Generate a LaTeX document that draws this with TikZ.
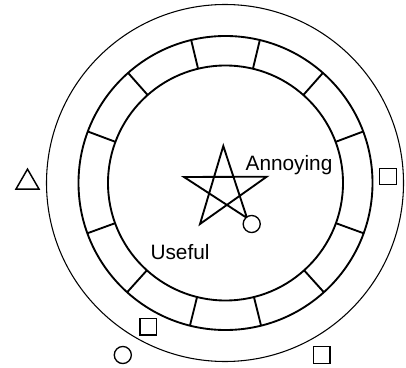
\documentclass[tikz,border=0pt]{standalone}
\usepackage{fontspec}
\setmainfont{Liberation Sans}
\usetikzlibrary{shapes.geometric}

\begin{document}
\begin{tikzpicture}[
  x=0.75pt, y=-0.75pt,
  font=\fontsize{15.6}{18}\selectfont,
  thinline/.style={line width=0.8pt},
  ringline/.style={line width=1.4pt},
  sqbox/.style={draw, line width=1pt, minimum size=12.4pt, inner sep=0pt},
  dot/.style={draw, circle, line width=1pt, minimum size=12.8pt, inner sep=0pt, fill=white},
  tri/.style={draw, regular polygon, regular polygon sides=3, line width=1.1pt, minimum size=19.9pt, inner sep=0pt}
]
\useasboundingbox (0,0) rectangle (406,367);
% outer boundary and ring
\draw[thinline] (225,183) circle [radius=178.5];
\draw[ringline] (225.5,183) circle [radius=147];
\draw[ringline] (225.5,183) circle [radius=117.5];
\foreach \a in {13.5,41.5,69.5,110,138,166} {
  \draw[ringline] (225.5,183) ++(-90+\a:117.5) -- ++(-90+\a:29.5);
  \draw[ringline] (225.5,183) ++(-90-\a:117.5) -- ++(-90-\a:29.5);
}
% star with knob
\draw[ringline, line join=miter] (223.3,146) -- (200,224) -- (266.7,176.7) -- (184,177) -- (247,218) -- cycle;
\node[dot] (knob) at (251.7,224) {};
\node[anchor=base] (annoying) at (289,170) {Annoying};
\node[anchor=base] (useful) at (180,259.3) {Useful};
% markers outside
\node[tri] (tri) at (27.5,182.4) {};
\node[sqbox] (sqright) at (388,176.5) {};
\node[sqbox] (sqlow) at (148.3,326.7) {};
\node[dot] (dotlow) at (122.8,355) {};
\node[sqbox] (sqcorner) at (321.7,355) {};
\end{tikzpicture}
\end{document}
